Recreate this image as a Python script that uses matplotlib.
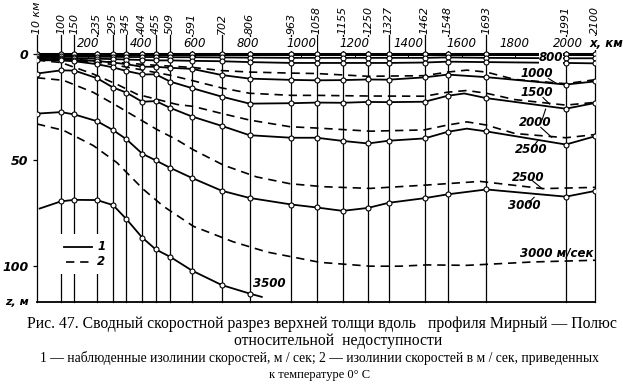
import matplotlib.pyplot as plt
from matplotlib import font_manager
from matplotlib.patches import Rectangle

# stations along the profile (km) and their labels
stations = [10, 100, 150, 235, 295, 345, 404, 455, 509, 591, 702, 806,
            963, 1058, 1155, 1250, 1327, 1462, 1548, 1693, 1991, 2100]
station_labels = ['10 км', '100', '150', '235', '295', '345', '404', '455',
                  '509', '591', '702', '806', '963', '1058', '1155', '1250',
                  '1327', '1462', '1548', '1693', '1991', '2100']
scale_km = [200, 400, 600, 800, 1000, 1200, 1400, 1600, 1800, 2000]

# observed isolines (solid), depth z in m
z_800 = [1.0, 1.1, 1.2, 1.3, 1.3, 1.4, 1.4, 1.4, 1.5, 1.5, 1.6, 1.7,
         1.8, 1.8, 1.8, 1.8, 1.8, 1.8, 1.6, 1.8, 2.0, 2.0]
z_1000 = [1.7, 1.9, 2.0, 2.2, 2.4, 2.6, 2.8, 3.0, 3.0, 3.2, 3.4, 3.8,
          4.2, 4.2, 4.2, 4.2, 4.2, 4.0, 3.6, 3.8, 4.2, 4.4]
z_1500 = [2.3, 2.5, 2.8, 3.3, 4.0, 4.8, 6.0, 6.0, 6.5, 7.0, 9.9, 11.6,
          12.2, 12.4, 12.3, 12.0, 12.1, 11.0, 9.7, 10.9, 14.4, 12.9]
km_2000 = stations[:19] + [1610] + stations[19:]
z_2000 = [2.9, 3.0, 3.4, 4.8, 6.3, 8.0, 9.6, 9.6, 13.0, 16.1, 20.1, 23.4,
          23.2, 22.9, 23.0, 22.6, 22.7, 22.5, 19.7, 18.6, 20.8, 25.8, 23.1]
km_2500 = stations[:19] + [1620] + stations[19:]
z_2500 = [9.2, 7.7, 7.8, 11.4, 15.8, 18.2, 22.5, 22.2, 25.4, 29.5, 33.9, 38.3,
          39.5, 39.5, 41.0, 42.2, 40.9, 39.8, 36.7, 35.2, 36.5, 42.7, 38.8]
z_3000 = [28.1, 27.4, 28.5, 31.7, 35.9, 40.2, 47.0, 50.2, 53.7, 58.5, 64.5, 67.9,
          71.0, 72.4, 74.0, 72.6, 70.2, 68.0, 66.2, 63.9, 67.3, 64.6]
km_3500 = [20, 100, 150, 235, 295, 345, 404, 455, 509, 591, 702, 806, 852]
z_3500 = [72.9, 69.5, 68.8, 68.9, 71.3, 77.9, 86.6, 92.2, 95.7, 102.2, 109.0, 113.0, 114.6]

# isolines reduced to 0 C (dashed)
km_d1000 = [10, 100, 235, 345, 455, 591, 702, 806, 963, 1058, 1250, 1462,
            1548, 1620, 1693, 1800, 1991, 2100]
z_d1000 = [1.8, 2.2, 3.2, 4.3, 5.3, 6.3, 7.8, 8.5, 9.0, 9.2, 10.5, 10.2,
           8.5, 7.6, 8.5, 12.0, 14.0, 12.1]
km_d1500 = [10, 100, 235, 295, 404, 509, 591, 702, 806, 963, 1058, 1250,
            1462, 1548, 1620, 1693, 1800, 1991, 2100]
z_d1500 = [2.4, 2.8, 3.8, 5.0, 7.5, 10.0, 12.5, 16.0, 18.5, 19.5, 19.5, 19.8,
           19.9, 18.0, 17.2, 18.5, 21.5, 24.1, 22.8]
km_d2000 = [10, 100, 220, 310, 385, 460, 535, 595, 700, 808, 958, 1070,
            1258, 1460, 1548, 1620, 1693, 1800, 1991, 2100]
z_d2000 = [2.9, 4.0, 9.4, 14.3, 19.0, 21.4, 23.8, 24.7, 28.0, 31.2, 34.3, 35.0,
           36.4, 35.8, 33.5, 32.0, 33.5, 37.5, 39.5, 38.0]
km_d2500 = [10, 109, 221, 309, 384, 459, 533, 596, 708, 833, 958, 1083, 1258,
            1471, 1670, 1906, 2100]
z_d2500 = [11.2, 12.4, 18.1, 24.4, 30.0, 35.6, 40.4, 45.2, 52.4, 58.0, 61.2,
           62.6, 63.4, 61.8, 60.1, 63.5, 62.9]
km_d3000 = [10, 109, 221, 309, 408, 483, 596, 745, 871, 1070, 1258, 1370,
            1471, 1621, 1868, 2100]
z_d3000 = [33.0, 36.0, 43.2, 51.2, 63.8, 71.8, 81.3, 88.6, 93.4, 98.3, 100.1,
           100.1, 99.5, 99.7, 98.1, 97.3]

names = {f.name for f in font_manager.fontManager.ttflist}
numfont = 'Liberation Sans Narrow' if 'Liberation Sans Narrow' in names else 'DejaVu Sans'
serif = 'Liberation Serif'

fig = plt.figure(figsize=(6.23, 3.89), dpi=100)
ax = fig.add_axes([37 / 623, 87 / 389, 558 / 623, 302 / 389])
ax.set_xlim(10, 2100)
ax.set_ylim(117, -25.5)
for s in ['top', 'left', 'right']:
    ax.spines[s].set_visible(False)
ax.spines['bottom'].set_linewidth(1.3)
ax.set_xticks([])
ax.set_yticks([0, 50, 100])
ax.set_yticklabels(['0', '50', '100'], family=numfont, style='italic',
                   weight='bold', fontsize=9)
ax.tick_params(axis='y', length=3, width=0.9, pad=3)

# station verticals with labels on top
for km, lab in zip(stations, station_labels):
    ax.plot([km, km], [-9.0, 117], color='k', lw=0.9, zorder=2, clip_on=False)
    ax.text(km, -9.5, lab, rotation=90, ha='center', va='bottom', fontsize=7.9,
            family=numfont, style='italic', clip_on=False)

# distance scale along the surface
for v in scale_km:
    ax.text(v, -4.8, str(v), ha='center', va='center', fontsize=8.5,
            family=numfont, style='italic', zorder=5,
            bbox=dict(facecolor='white', edgecolor='none', pad=0.6))
    ax.plot([v, v], [0, 1.4], color='k', lw=0.7, zorder=3)
ax.text(2080, -5.2, 'x, км', ha='left', va='center', fontsize=8.5,
        family=numfont, style='italic', weight='bold', zorder=5, clip_on=False,
        bbox=dict(facecolor='white', edgecolor='none', pad=0.3))

mk = dict(marker='o', markersize=3.6, markerfacecolor='white',
          markeredgecolor='k', markeredgewidth=0.8)

# surface
ax.plot(stations, [0] * len(stations), color='k', lw=2.2, zorder=3)
ax.plot(stations, [0] * len(stations), ls='none', zorder=6, **mk)

# dashed isolines
for kx, zz in [(km_d1000, z_d1000), (km_d1500, z_d1500), (km_d2000, z_d2000),
               (km_d2500, z_d2500), (km_d3000, z_d3000)]:
    ax.plot(kx, zz, color='k', lw=1.2, ls=(0, (5, 3.5)), zorder=3)

# solid isolines with observation points
solid = [(stations, z_800), (stations, z_1000), (stations, z_1500),
         (km_2000, z_2000), (km_2500, z_2500), (stations, z_3000),
         (km_3500, z_3500)]
for kx, zz in solid:
    ax.plot(kx, zz, color='k', lw=1.3, zorder=4)
    px = [k for k in kx if k in stations]
    pz = [z for k, z in zip(kx, zz) if k in stations]
    ax.plot(px, pz, ls='none', zorder=6, **mk)

lab = dict(family=numfont, style='italic', weight='bold', fontsize=8.5, zorder=7)
ax.text(1935, 1.6, '800', ha='center', va='center',
        bbox=dict(facecolor='white', edgecolor='none', pad=0.2), **lab)
ax.text(1880, 9.0, '1000', ha='center', va='center', **lab)
ax.plot([1925, 1958], [11.5, 14.0], color='k', lw=0.8)
ax.text(1880, 18.0, '1500', ha='center', va='center', **lab)
ax.plot([1905, 1930], [20.5, 23.6], color='k', lw=0.8)
ax.text(1875, 32.5, '2000', ha='center', va='center', **lab)
ax.plot([1902, 1915], [31.0, 26.0], color='k', lw=0.8)
ax.plot([1897, 1938], [34.6, 39.3], color='k', lw=0.8)
ax.text(1860, 45.2, '2500', ha='center', va='center', **lab)
ax.plot([1863, 1885], [44.5, 41.0], color='k', lw=0.8)
ax.text(1850, 58.3, '2500', ha='center', va='center', **lab)
ax.plot([1865, 1902], [59.7, 63.5], color='k', lw=0.8)
ax.text(1835, 71.3, '3000', ha='center', va='center', **lab)
ax.plot([1852, 1872], [70.2, 67.6], color='k', lw=0.8)
ax.text(1955, 94.0, '3000 м/сек', ha='center', va='center', **lab)
ax.text(880, 108.3, '3500', ha='center', va='center', **lab)

# legend
ax.add_patch(Rectangle((90, 85), 190, 19, facecolor='white', edgecolor='none', zorder=2.5))
ax.plot([113, 215], [91, 91], color='k', lw=1.3, zorder=4)
ax.plot([118, 215], [98, 98], color='k', lw=1.2, ls=(0, (5, 3.5)), zorder=4)
ax.text(250, 91, '1', ha='center', va='center', **lab)
ax.text(250, 98, '2', ha='center', va='center', **lab)

fig.text(5 / 623, 1 - 302 / 389, 'z, м', ha='left', va='center', fontsize=8,
         family=numfont, style='italic', weight='bold')

# caption
fig.text(322 / 623, 1 - 324 / 389,
         'Рис. 47. Сводный скоростной разрез верхней толщи вдоль   профиля Мирный — Полюс',
         ha='center', va='center', fontsize=11.3, family=serif)
fig.text(338 / 623, 1 - 341 / 389, 'относительной  недоступности',
         ha='center', va='center', fontsize=11.3, family=serif)
fig.text(320 / 623, 1 - 358 / 389,
         '1 — наблюденные изолинии скоростей, м / сек; 2 — изолинии скоростей в м / сек, приведенных',
         ha='center', va='center', fontsize=9.8, family=serif)
fig.text(320 / 623, 1 - 375 / 389, 'к температуре 0° С',
         ha='center', va='center', fontsize=9, family=serif)

fig.savefig('out.png', dpi=100)
